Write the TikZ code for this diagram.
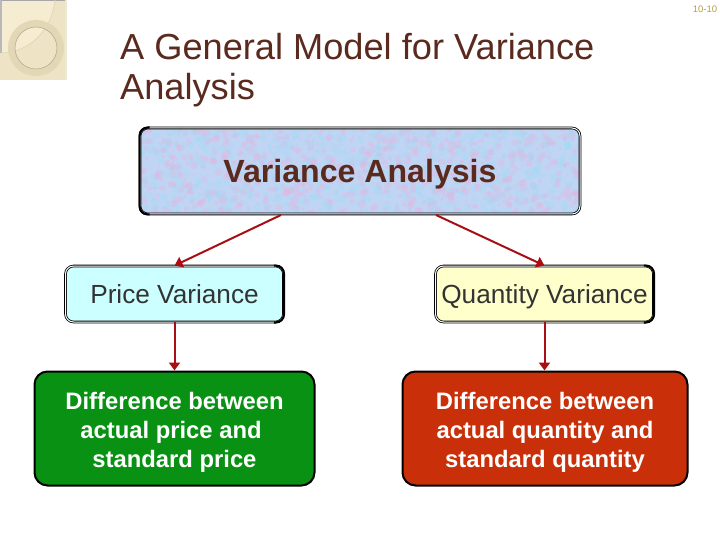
\documentclass[tikz,border=0pt]{standalone}
\usepackage{xcolor}
\usepackage{fontspec}
\setmainfont{Liberation Sans}
\usetikzlibrary{calc,arrows.meta}
\definecolor{titleBrown}{HTML}{5A2A1E}
\definecolor{arrowRed}{HTML}{A80F14}
\definecolor{mottleBlue}{HTML}{BFD5F3}
\definecolor{priceCyan}{HTML}{CCFFFF}
\definecolor{quantityCream}{HTML}{FFFFCC}
\definecolor{diffGreen}{HTML}{089112}
\definecolor{diffRed}{HTML}{C9300A}
\definecolor{logoCream}{HTML}{F6ECD2}
\definecolor{logoShade}{HTML}{EEE3C4}
\definecolor{logoRing}{HTML}{E2D8B6}
\definecolor{pageNum}{HTML}{B8A040}
\tikzset{
  doubleBox/.style={draw=black, rounded corners=8pt, line width=0.8pt, double=white, double distance=1pt},
  smallBox/.style={doubleBox, minimum width=218pt, minimum height=56pt, text height=18pt, text depth=5pt, font=\fontsize{26.2}{26.2}\selectfont, text=black!80},
  diffBox/.style={draw=black, rounded corners=13pt, line width=2pt, minimum height=114pt, align=center, text=white, font=\bfseries\fontsize{23.8}{29}\selectfont},
  heavyEdge/.style={draw=black, line width=2.2pt, rounded corners=8pt},
  flowArrow/.style={draw=arrowRed, line width=2pt, -{Triangle[length=8pt,width=11pt]}}
}
\begin{document}
\begin{tikzpicture}[x=1pt,y=-1pt]
  \useasboundingbox (0,0) rectangle (720,540);
  \fill[white] (0,0) rectangle (720,540);

  % logo corner
  \fill[logoShade] (0,0) rectangle (67,80);
  \fill[logoCream] (0,0) -- (55,0) .. controls (52,30) and (30,52) .. (2,53) -- (0,53) -- cycle;
  \fill[gray!70] (0,0) rectangle (67,1.5);
  \fill[gray!55] (0,0) rectangle (2,53);
  \fill[logoRing!60] (65,0) rectangle (67,80);
  \draw[logoRing, line width=0.8pt] (55,0) .. controls (52,30) and (30,52) .. (2,53);
  \draw[logoRing, line width=7pt] (36,48) circle (24.5);
  \draw[logoRing!80!black, line width=0.6pt] (36,48) circle (21);

  \node (pagenum) at (705,9.5) {\textcolor{pageNum}{\fontsize{9.5}{9.5}\selectfont 10-10}};

  \node[anchor=north west, align=left, text=titleBrown, font=\fontsize{36.2}{40}\selectfont, inner sep=0pt] (title) at (120,33) {A General Model for Variance\\Analysis};

  % top box
  \fill[mottleBlue, rounded corners=8pt] (139,127) rectangle (581,215);
  \begin{scope}
    \clip[rounded corners=8pt] (139,127) rectangle (581,215);
    \pgfmathsetseed{42}
    \foreach \i in {1,...,1600} {
      \pgfmathsetmacro{\px}{139+442*rnd}
      \pgfmathsetmacro{\py}{127+88*rnd}
      \pgfmathsetmacro{\pr}{1+3*rnd}
      \ifodd\i
        \fill[magenta!35, opacity=0.24] (\px,\py) circle (\pr);
      \else
        \fill[cyan!40, opacity=0.24] (\px,\py) circle (\pr);
      \fi
    }
  \end{scope}
  \node[doubleBox, minimum width=440pt, minimum height=86pt, text=titleBrown, font=\bfseries\fontsize{32.1}{32.1}\selectfont] (main) at (360,171) {\raisebox{-3pt}[\height][\depth]{Variance Analysis}};
  \draw[heavyEdge] ($(main.north west)+(10,0)$) -- (main.north west) -- (main.south west) -- ($(main.south west)+(10,0)$);

  % middle boxes
  \node[smallBox, fill=priceCyan] (price) at (174.5,294) {\raisebox{-3pt}{Price Variance}};
  \node[smallBox, fill=quantityCream] (quantity) at (544.5,294) {\raisebox{-3pt}{Quantity Variance}};
  \draw[heavyEdge] ($(price.north east)+(-10,0)$) -- (price.north east) -- (price.south east) -- ($(price.south east)+(-10,0)$);
  \draw[heavyEdge] ($(quantity.north east)+(-10,0)$) -- (quantity.north east) -- (quantity.south east) -- ($(quantity.south east)+(-10,0)$);

  % bottom boxes
  \node[diffBox, fill=diffGreen, minimum width=280pt] (green) at (174.5,428.5) {\raisebox{-4pt}[\height][\depth]{\begin{tabular}{@{}c@{}}Difference between\\actual price and\hspace*{7pt}\\standard price\end{tabular}}};
  \node[diffBox, fill=diffRed, minimum width=285pt] (red) at (545,428.5) {\raisebox{-4pt}[\height][\depth]{\begin{tabular}{@{}c@{}}Difference between\\actual quantity and\\standard quantity\end{tabular}}};

  % arrows
  \coordinate (mainL) at (281,215);
  \coordinate (mainR) at (436,215);
  \draw[flowArrow] (mainL) -- (price.north);
  \draw[flowArrow] (mainR) -- (quantity.north);
  \draw[flowArrow] (price.south) -- (green.north);
  \draw[flowArrow] (quantity.south) -- (quantity.south |- red.north);
\end{tikzpicture}
\end{document}
